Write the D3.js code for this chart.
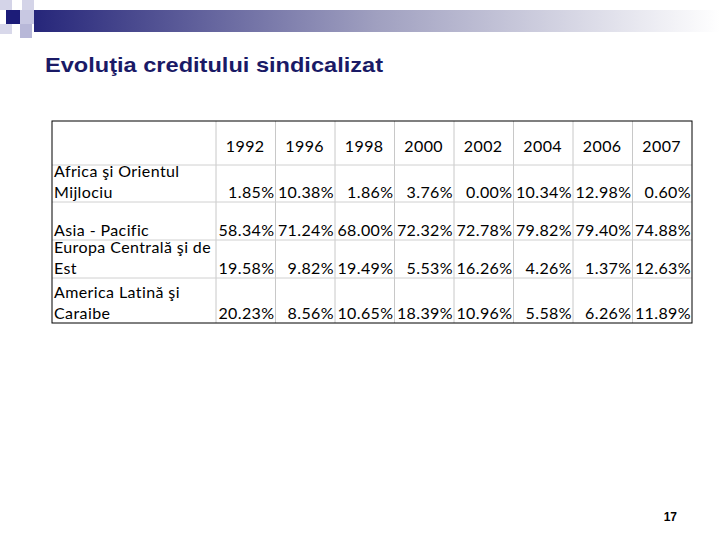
<!DOCTYPE html>
<html><head><meta charset="utf-8">
<script src="https://cdn.jsdelivr.net/npm/d3@7"></script>
<style>body{margin:0;background:#fff}</style></head>
<body><svg id="c" width="720" height="540"></svg>
<script>
const years = ["1992","1996","1998","2000","2002","2004","2006","2007"];
const regions = [["Africa şi Orientul","Mijlociu"],["Asia - Pacific"],["Europa Centrală şi de","Est"],["America Latină şi","Caraibe"]];
const africa = ["1.85%","10.38%","1.86%","3.76%","0.00%","10.34%","12.98%","0.60%"];
const asia = ["58.34%","71.24%","68.00%","72.32%","72.78%","79.82%","79.40%","74.88%"];
const europa = ["19.58%","9.82%","19.49%","5.53%","16.26%","4.26%","1.37%","12.63%"];
const america = ["20.23%","8.56%","10.65%","18.39%","10.96%","5.58%","6.26%","11.89%"];
const rows = [africa, asia, europa, america];

const svg = d3.select("#c");
const defs = svg.append("defs");
const g = defs.append("linearGradient").attr("id","gb");
g.append("stop").attr("offset","0").attr("stop-color","#26267a");
g.append("stop").attr("offset","0.5").attr("stop-color","#a0a0c0");
g.append("stop").attr("offset","1").attr("stop-color","#ffffff");
svg.append("rect").attr("x",34).attr("y",10).attr("width",686).attr("height",22).attr("fill","url(#gb)");
[[0,0,12,10,"#d4d4e8"],[22,0,12,10,"#d4d4e8"],[0,24,12,10,"#d8d8ea"],[20,24,12,14,"#b8b8d8"],[20,10,14,14,"#c8c8e2"]].forEach(s=>
  svg.append("rect").attr("x",s[0]).attr("y",s[1]).attr("width",s[2]).attr("height",s[3]).attr("fill",s[4]));
svg.append("rect").attr("x",6).attr("y",10).attr("width",14).attr("height",14).attr("fill","#1c1c78");

svg.append("text").attr("x",45).attr("y",72).attr("font-family","Liberation Sans, Arial").attr("font-weight","bold")
  .attr("font-size",21).attr("textLength",338).attr("lengthAdjust","spacingAndGlyphs").attr("fill","#1a1a66").text("Evoluţia creditului sindicalizat");

const x = d3.scaleBand().domain(years).range([216,692]);
const rowY = [121,165,202,240,278,323];
const font = "Lato, sans-serif";
const T = svg.append("g").attr("font-family",font).attr("font-size",16).attr("letter-spacing",0.4).attr("fill","#000");
years.forEach(y=>T.append("line").attr("x1",x(y)).attr("x2",x(y)).attr("y1",121).attr("y2",323).attr("stroke","#c8c8c8"));
rowY.slice(1,-1).forEach(v=>T.append("line").attr("x1",52).attr("x2",692).attr("y1",v).attr("y2",v).attr("stroke","#d0d0d0"));
T.append("rect").attr("x",52).attr("y",121).attr("width",640).attr("height",202).attr("fill","none").attr("stroke","#000");
years.forEach(y=>T.append("text").attr("x",x(y)+x.bandwidth()-11).attr("y",152).attr("text-anchor","end").text(y));
regions.forEach((r,i)=>{
  const bottom = rowY[i+2]-4;
  r.forEach((line,j)=>T.append("text").attr("x",54).attr("y",bottom-(r.length-1-j)*21).text(line));
  rows[i].forEach((v,k)=>T.append("text").attr("x",x(years[k])+x.bandwidth()-1).attr("y",bottom).attr("text-anchor","end").text(v));
});
svg.append("text").attr("x",677).attr("y",521).attr("text-anchor","end").attr("font-family","Liberation Sans, Arial")
  .attr("font-weight","bold").attr("font-size",12).text("17");
</script></body></html>
